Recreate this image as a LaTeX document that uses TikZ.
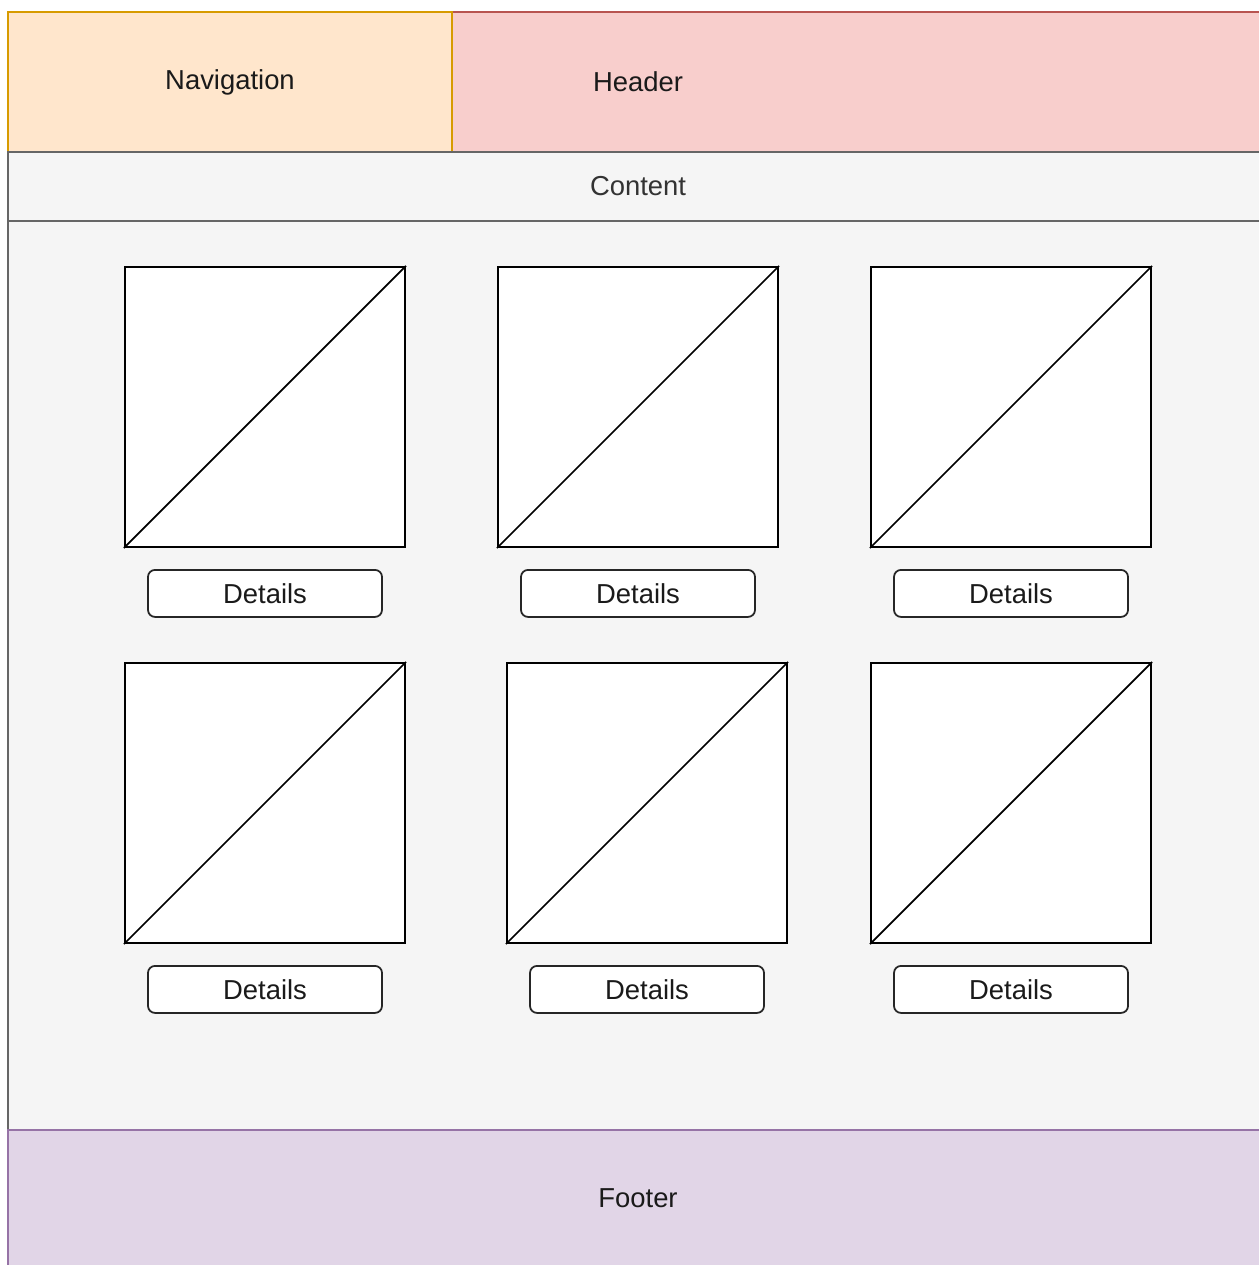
\documentclass[tikz,border=0pt]{standalone}
\usepackage{fontspec}
\setmainfont{Liberation Sans}
\definecolor{navfill}{HTML}{FFE6CC}
\definecolor{navdraw}{HTML}{D79B00}
\definecolor{headfill}{HTML}{F8CECC}
\definecolor{headdraw}{HTML}{B85450}
\definecolor{contfill}{HTML}{F5F5F5}
\definecolor{contdraw}{HTML}{666666}
\definecolor{footfill}{HTML}{E1D5E7}
\definecolor{footdraw}{HTML}{9673A6}
\definecolor{textdark}{HTML}{1A1A1A}
\usetikzlibrary{positioning}

\tikzset{
  area/.style={rectangle, line width=0.45pt, inner sep=0pt, text=textdark,
    font=\fontsize{7.8pt}{9pt}\selectfont},
  navbox/.style={area, fill=navfill, draw=navdraw},
  headbox/.style={area, fill=headfill, draw=headdraw},
  contbox/.style={area, fill=contfill, draw=contdraw},
  footbox/.style={area, fill=footfill, draw=footdraw},
  imgbox/.style={rectangle, draw=black, fill=white, line width=0.6pt,
    minimum width=2.8cm, minimum height=2.8cm, inner sep=0pt},
  detailbtn/.style={rectangle, rounded corners=0.7mm, draw=black!85, fill=white,
    line width=0.5pt, minimum width=2.34cm, minimum height=0.47cm, inner sep=0pt,
    text=textdark, font=\fontsize{7.8pt}{9pt}\selectfont}
}

\begin{document}
\begin{tikzpicture}
    \useasboundingbox (0,0) rectangle (12.58,12.65);
    % page frame
    \node[headbox, minimum width=12.6cm, minimum height=1.4cm] (header) at (6.38,11.83) {Header};
    \node[navbox, minimum width=4.44cm, minimum height=1.4cm] (nav) at (2.30,11.83) {Navigation};
    \node[contbox, minimum width=12.6cm, minimum height=0.69cm, text=black!80] (contbar) at (6.38,10.785) {Content};
    \node[contbox, minimum width=12.6cm, minimum height=9.09cm] (contbody) at (6.38,5.895) {};
    \node[footbox, minimum width=12.6cm, minimum height=1.36cm] (footer) at (6.38,0.67) {Footer};

    % image placeholders
    \node[imgbox] (img1) at (2.65,8.58) {};
    \node[imgbox] (img2) at (6.38,8.58) {};
    \node[imgbox] (img3) at (10.11,8.58) {};
    \node[imgbox] (img4) at (2.65,4.62) {};
    \node[imgbox] (img5) at (6.47,4.62) {};
    \node[imgbox] (img6) at (10.11,4.62) {};
    \foreach \i in {1,...,6}
        \draw[line width=0.5pt] (img\i.south west) -- (img\i.north east);

    % buttons
    \node[detailbtn, below=0.21cm of img1] (btn1) {Details};
    \node[detailbtn, below=0.21cm of img2] (btn2) {Details};
    \node[detailbtn, below=0.21cm of img3] (btn3) {Details};
    \node[detailbtn, below=0.21cm of img4] (btn4) {Details};
    \node[detailbtn, below=0.21cm of img5] (btn5) {Details};
    \node[detailbtn, below=0.21cm of img6] (btn6) {Details};
\end{tikzpicture}
\end{document}
